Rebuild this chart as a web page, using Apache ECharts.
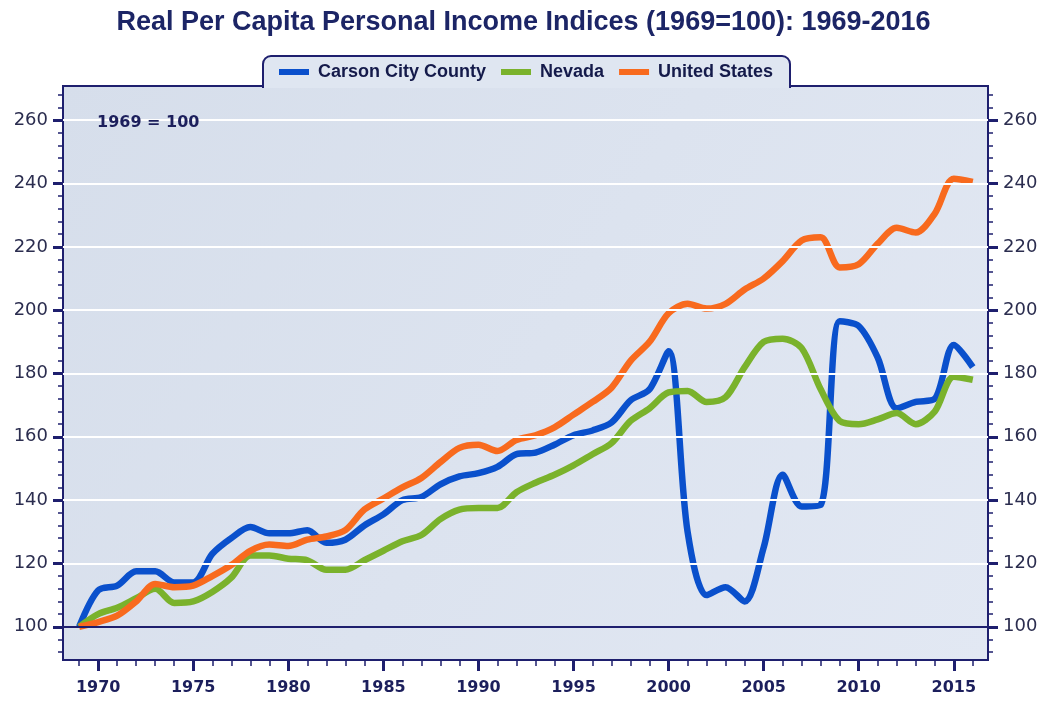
<!DOCTYPE html>
<html>
<head>
<meta charset="utf-8">
<title>Real Per Capita Personal Income Indices</title>
<script src="https://cdn.jsdelivr.net/npm/echarts@6/dist/echarts.min.js"></script>
<style>
  html, body { margin: 0; padding: 0; background: #ffffff; }
  #chart { width: 1047px; height: 704px; }
</style>
</head>
<body>
<div id="chart"></div>
<script>
// index values, 1969 = 100
const years = [
  1969, 1970, 1971, 1972, 1973, 1974, 1975, 1976, 1977, 1978,
  1979, 1980, 1981, 1982, 1983, 1984, 1985, 1986, 1987, 1988,
  1989, 1990, 1991, 1992, 1993, 1994, 1995, 1996, 1997, 1998,
  1999, 2000, 2001, 2002, 2003, 2004, 2005, 2006, 2007, 2008,
  2009, 2010, 2011, 2012, 2013, 2014, 2015, 2016
];
const carsonCity = [
  100, 111.5, 113, 117.5, 117.5, 114, 114, 123, 128, 131.5,
  129.5, 129.5, 130.5, 126.5, 127.5, 132, 135.5, 140, 141, 145,
  147.5, 148.5, 150.5, 154.5, 155, 157.5, 160.5, 162, 164.5, 171.5,
  175, 187, 130, 110, 112.5, 108, 125, 148, 138, 138.5,
  196.5, 195, 185, 169, 171, 172, 189, 182
];
const nevada = [
  100, 104, 106, 109, 112, 107.5, 108, 111, 115.5, 122.5,
  122.5, 121.5, 121, 118, 118, 121, 124, 127, 129, 134,
  137, 137.5, 137.5, 142.5, 145.5, 148, 151, 154.5, 158, 165,
  169, 174, 174.5, 171, 172.5, 182, 190, 191, 188, 175,
  165, 164, 165.5, 167.5, 164, 168, 179, 178
];
const unitedStates = [
  100, 101.5, 103.5, 108, 113.5, 112.5, 113, 116, 119.5, 124,
  126, 125.5, 127.5, 128.5, 130.5, 137, 140.5, 144, 147, 152,
  156.5, 157.5, 155.5, 159, 160.5, 163, 167, 171, 175.5, 184,
  190, 199, 202, 200.5, 202, 206.5, 210, 215.5, 222, 223,
  213.5, 214.5, 221, 226, 224.5, 230.5, 241.5, 240.5
];

const yearLabels = [1970, 1975, 1980, 1985, 1990, 1995, 2000, 2005, 2010, 2015];
const yLabels = [100, 120, 140, 160, 180, 200, 220, 240, 260];
const yMinorTicks = [
  92, 96, 100, 104, 108, 112, 116, 120, 124, 128, 132, 136, 140, 144, 148,
  152, 156, 160, 164, 168, 172, 176, 180, 184, 188, 192, 196, 200, 204, 208,
  212, 216, 220, 224, 228, 232, 236, 240, 244, 248, 252, 256, 260, 264, 268
];
const gridValues = [120, 140, 160, 180, 200, 220, 240, 260];
const baseValue = 100;

const navy = '#1e1f6e';
const xMin = 1968.15, xMax = 2016.8;
const yMin = 89.5, yMax = 270.8;

const chart = echarts.init(document.getElementById('chart'));

function lineSeries(name, values, color, z) {
  return {
    name: name,
    type: 'line',
    xAxisIndex: 0,
    yAxisIndex: 0,
    data: years.map((y, i) => [y, values[i]]),
    showSymbol: false,
    smooth: 0.3,
    z: z,
    lineStyle: { color: color, width: 6.5 },
    itemStyle: { color: color },
    emphasis: { disabled: true }
  };
}

function yAxisOf(position, major) {
  return {
    type: 'value',
    position: position,
    min: yMin,
    max: yMax,
    axisLine: { show: !major, lineStyle: { color: navy, width: 2 } },
    axisTick: {
      show: true,
      customValues: major ? yLabels : yMinorTicks,
      length: major ? 10 : 5,
      lineStyle: { color: navy, width: major ? 3 : 1.5 }
    },
    axisLabel: major ? {
      show: true,
      customValues: yLabels,
      margin: 15,
      color: '#2b2d4f',
      fontFamily: 'DejaVu Sans',
      fontSize: 18,
      formatter: v => String(v)
    } : { show: false },
    splitLine: { show: false }
  };
}

chart.setOption({
  backgroundColor: '#ffffff',
  animation: false,
  title: [
    {
      text: 'Real Per Capita Personal Income Indices (1969=100): 1969-2016',
      left: 'center',
      top: 4,
      textStyle: {
        fontFamily: 'Liberation Sans',
        fontWeight: 'bold',
        fontSize: 27,
        color: '#1c2566'
      }
    },
    {
      text: '1969 = 100',
      left: 92,
      top: 110,
      textStyle: {
        fontFamily: 'DejaVu Sans',
        fontWeight: 'bold',
        fontSize: 16,
        color: '#1c1f5c'
      }
    }
  ],
  legend: {
    data: ['Carson City County', 'Nevada', 'United States'],
    left: 274,
    top: 58,
    icon: 'rect',
    itemWidth: 30,
    itemHeight: 6,
    itemGap: 15,
    selectedMode: false,
    textStyle: {
      fontFamily: 'Liberation Sans',
      fontWeight: 'bold',
      fontSize: 18,
      color: '#141a4a',
      padding: [0, 0, 0, 4]
    }
  },
  grid: {
    left: 63,
    right: 59,
    top: 86,
    bottom: 44,
    containLabel: false,
    outerBoundsMode: 'none',
    show: true,
    borderColor: navy,
    borderWidth: 2,
    backgroundColor: {
      type: 'linear', x: 0, y: 0, x2: 1, y2: 1,
      colorStops: [
        { offset: 0, color: '#d6deeb' },
        { offset: 1, color: '#e2e8f3' }
      ]
    }
  },
  graphic: [
    {
      type: 'rect',
      z: 3,
      shape: { x: 263, y: 56, width: 527, height: 31, r: [8, 8, 0, 0] },
      style: { fill: '#dfe6f1', stroke: navy, lineWidth: 2 }
    },
    {
      type: 'rect',
      z: 3,
      shape: { x: 264, y: 83, width: 525, height: 5 },
      style: { fill: '#dfe6f1' }
    }
  ],
  xAxis: [
    {
      type: 'value',
      position: 'bottom',
      min: xMin,
      max: xMax,
      axisLine: { show: true, lineStyle: { color: navy, width: 2 } },
      axisTick: { show: true, customValues: years, length: 6, lineStyle: { color: navy, width: 1.5 } },
      axisLabel: { show: false },
      splitLine: { show: false }
    },
    {
      type: 'value',
      position: 'bottom',
      min: xMin,
      max: xMax,
      axisLine: { show: false },
      axisTick: { show: true, customValues: yearLabels, length: 11, lineStyle: { color: navy, width: 3 } },
      axisLabel: {
        show: true,
        customValues: yearLabels,
        margin: 20,
        color: '#1c1f5c',
        fontFamily: 'DejaVu Sans',
        fontWeight: 'bold',
        fontSize: 16,
        formatter: v => String(v)
      },
      splitLine: { show: false }
    }
  ],
  yAxis: [
    yAxisOf('left', false),
    yAxisOf('left', true),
    yAxisOf('right', false),
    yAxisOf('right', true)
  ],
  series: [
    {
      name: 'grid',
      type: 'line',
      xAxisIndex: 0,
      yAxisIndex: 0,
      data: [],
      z: 1,
      silent: true,
      markLine: {
        silent: true,
        symbol: 'none',
        animation: false,
        label: { show: false },
        emphasis: { disabled: true },
        data: gridValues.map(v => ({
          yAxis: v,
          lineStyle: { color: '#ffffff', width: 2, type: 'solid' }
        })).concat([{
          yAxis: baseValue,
          lineStyle: { color: navy, width: 2, type: 'solid' }
        }])
      }
    },
    lineSeries('Carson City County', carsonCity, '#0a50cc', 2),
    lineSeries('Nevada', nevada, '#7ab22c', 3),
    lineSeries('United States', unitedStates, '#f86a1e', 4)
  ]
});
</script>
</body>
</html>
